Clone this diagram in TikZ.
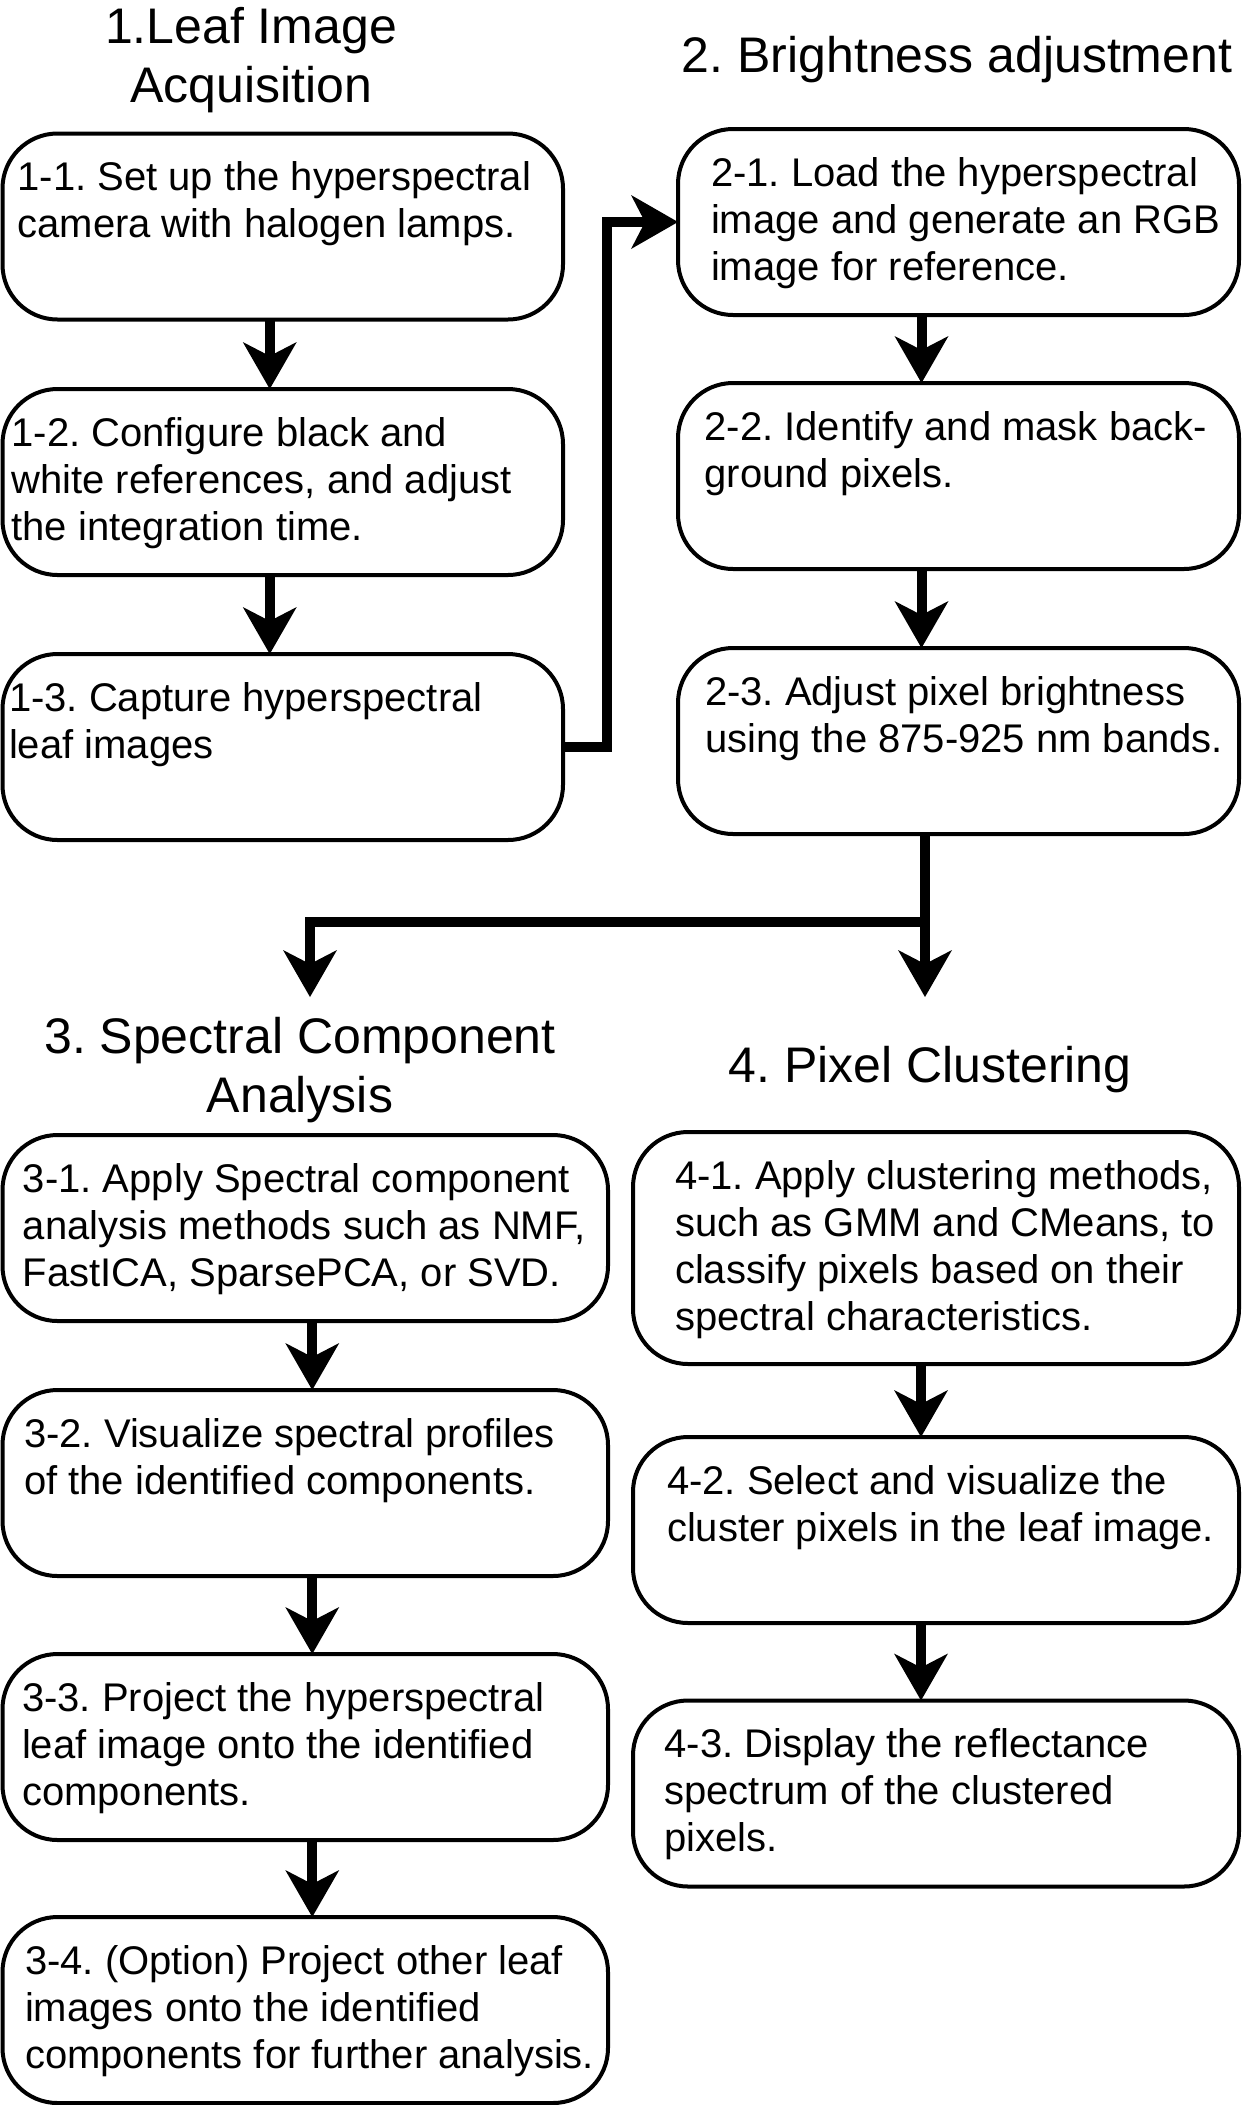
\documentclass[tikz,border=0pt]{standalone}
\usepackage{fontspec}
\setmainfont{Liberation Sans}
\usetikzlibrary{arrows.meta}
\frenchspacing

\newcommand{\boxfont}{\fontsize{40}{47}\selectfont}
\newcommand{\headfont}{\fontsize{50}{59}\selectfont}
% box text: width, height, left pad, text
\newcommand{\boxtext}[4]{\parbox[t][#2][t]{#1}{\raggedright\leftskip=#3\relax\rule{0pt}{57pt}#4}}

\begin{document}
\begin{tikzpicture}[x=1pt, y=-1pt,
    blk/.style = {draw, line width=4pt, rounded corners=55pt, anchor=north west,
                  inner sep=0pt, outer sep=0pt, font=\boxfont},
    head/.style = {anchor=north, align=center, inner sep=0pt, font=\headfont},
    arr/.style = {line width=10pt, -{Stealth[length=47pt, width=54pt, inset=14pt, line width=0pt]}}]
  \useasboundingbox (0,0) rectangle (1242,2105);

  % headings
  \node (h1) [head] at (251,7) {1.Leaf Image\\Acquisition};
  \node (h2) [head] at (957,36.5) {2. Brightness adjustment};
  \node (h3) [head] at (300,1017) {3. Spectral Component\\Analysis};
  \node (h4) [head] at (930,1046.5) {4. Pixel Clustering};

  % 1. leaf image acquisition
  \node (b11) [blk] at (2.5,133.5) {\boxtext{560.5pt}{186pt}{15pt}{1-1. Set up the hyperspectral\\camera with halogen lamps.}};
  \node (b12) [blk] at (2.5,389) {\boxtext{560.5pt}{186pt}{9pt}{1-2. Configure black and\\white references, and adjust\\the integration time.}};
  \node (b13) [blk] at (2.5,654) {\boxtext{560.5pt}{186pt}{6.5pt}{1-3. Capture hyperspectral\\leaf images}};

  % 2. brightness adjustment
  \node (b21) [blk] at (678,129) {\boxtext{561pt}{186pt}{33pt}{2-1. Load the hyperspectral\\image and generate an RGB\\image for reference.}};
  \node (b22) [blk] at (678,383) {\boxtext{561pt}{186pt}{26.5pt}{2-2. Identify and mask back-\\ground pixels.}};
  \node (b23) [blk] at (678,648) {\boxtext{561pt}{186pt}{27pt}{2-3. Adjust pixel brightness\\using the 875-925 nm bands.}};

  % 3. spectral component analysis
  \node (b31) [blk] at (2.5,1135) {\boxtext{605.5pt}{186pt}{20.5pt}{3-1. Apply Spectral component\\analysis methods such as NMF,\\FastICA, SparsePCA, or SVD.}};
  \node (b32) [blk] at (2.5,1390) {\boxtext{605.5pt}{186pt}{21.5pt}{3-2. Visualize spectral profiles\\of the identified components.}};
  \node (b33) [blk] at (2.5,1654) {\boxtext{605.5pt}{186pt}{19.5pt}{3-3. Project the hyperspectral\\leaf image onto the identified\\components.}};
  \node (b34) [blk] at (2.5,1917) {\boxtext{605.5pt}{186pt}{22.5pt}{3-4. (Option) Project other leaf\\images onto the identified\\components for further analysis.}};

  % 4. pixel clustering
  \node (b41) [blk] at (633,1132) {\boxtext{606pt}{232pt}{42pt}{4-1. Apply clustering methods,\\such as GMM and CMeans, to\\classify pixels based on their\\spectral characteristics.}};
  \node (b42) [blk] at (633,1437) {\boxtext{606pt}{186pt}{34pt}{4-2. Select and visualize the\\cluster pixels in the leaf image.}};
  \node (b43) [blk] at (633,1700.5) {\boxtext{606pt}{186pt}{31.5pt}{4-3. Display the reflectance\\spectrum of the clustered\\pixels.}};

  \path [arr]
    ([xshift=-13pt]b11.south) edge ([xshift=-13pt]b12.north)
    ([xshift=-13pt]b12.south) edge ([xshift=-13pt]b13.north)
    ([xshift=-37pt]b21.south) edge ([xshift=-37pt]b22.north)
    ([xshift=-37pt]b22.south) edge ([xshift=-37pt]b23.north)
    ([xshift=7pt]b31.south) edge ([xshift=7pt]b32.north)
    ([xshift=7pt]b32.south) edge ([xshift=7pt]b33.north)
    ([xshift=7pt]b33.south) edge ([xshift=7pt]b34.north)
    ([xshift=-15pt]b41.south) edge ([xshift=-15pt]b42.north)
    ([xshift=-15pt]b42.south) edge ([xshift=-15pt]b43.north);

  % 1 -> 2
  \draw [arr] (b13.east) -- ++(44,0) |- (b21.west);

  % 2 -> 3 and 4
  \coordinate (split) at (925,921.5);
  \coordinate (endL) at (310,997);
  \coordinate (endR) at (925,997);
  \draw [arr] ([xshift=-33.5pt]b23.south) -- (endR);
  \draw [arr] (split) -| (endL);
\end{tikzpicture}
\end{document}
